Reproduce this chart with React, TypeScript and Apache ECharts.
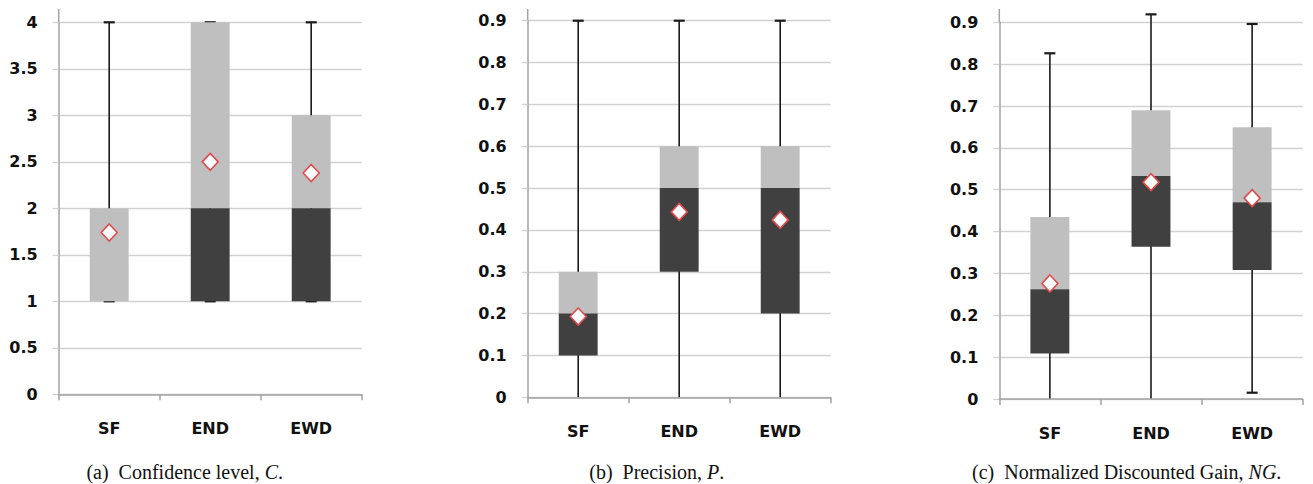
import React, { useEffect, useRef } from "react";
import * as echarts from "echarts";

const categories = ["SF", "END", "EWD"];

// (a) Confidence level
const confMin = [1, 1, 1];
const confQ1 = [1, 1, 1];
const confMedian = [1, 2, 2];
const confQ3 = [2, 4, 3];
const confMax = [4, 4, 4];
const confMean = [1.74, 2.5, 2.38];

// (b) Precision
const precMin = [0, 0, 0];
const precQ1 = [0.1, 0.3, 0.2];
const precMedian = [0.2, 0.5, 0.5];
const precQ3 = [0.3, 0.6, 0.6];
const precMax = [0.9, 0.9, 0.9];
const precMean = [0.193, 0.443, 0.424];

// (c) Normalized Discounted Gain
const ngMin = [0, 0, 0.015];
const ngQ1 = [0.109, 0.364, 0.308];
const ngMedian = [0.262, 0.533, 0.47];
const ngQ3 = [0.435, 0.69, 0.649];
const ngMax = [0.826, 0.919, 0.896];
const ngMean = [0.276, 0.518, 0.48];

const yTicksA = { min: 0, max: 4, interval: 0.5 };
const yTicksB = { min: 0, max: 0.9, interval: 0.1 };
const yTicksC = { min: 0, max: 0.9, interval: 0.1 };

const captions = [
  { label: "(a)", text: "Confidence level, ", sym: "C" },
  { label: "(b)", text: "Precision, ", sym: "P" },
  { label: "(c)", text: "Normalized Discounted Gain, ", sym: "NG" },
];

const DARK = "#404040";
const LIGHT = "#bfbfbf";
const AXIS = "#a3a3a3";
const GRIDLINE = "#d2d2d2";
const WHISKER = "#1a1a1a";
const LABEL_FONT = "DejaVu Sans";

function buildBox(mn: number[], q1: number[], md: number[], q3: number[], mx: number[]) {
  return categories.map((_, i) => [i, mn[i], q1[i], md[i], q3[i], mx[i]]);
}

const renderBox = (params: any, api: any) => {
  const idx = api.value(0);
  const mn = api.value(1);
  const q1 = api.value(2);
  const md = api.value(3);
  const q3 = api.value(4);
  const mx = api.value(5);
  const x = api.coord([idx, 0])[0];
  const w = api.size([1, 0])[0] * 0.385;
  const py = (v: number) => api.coord([idx, v])[1];
  const capHalf = 5.5;
  const children: any[] = [
    {
      type: "line",
      shape: { x1: x, y1: py(mn), x2: x, y2: py(mx) },
      style: { stroke: WHISKER, lineWidth: 1.6 },
    },
    {
      type: "line",
      shape: { x1: x - capHalf, y1: py(mx), x2: x + capHalf, y2: py(mx) },
      style: { stroke: WHISKER, lineWidth: 2.2 },
    },
  ];
  if (mn > 0) {
    children.push({
      type: "line",
      shape: { x1: x - capHalf, y1: py(mn), x2: x + capHalf, y2: py(mn) },
      style: { stroke: WHISKER, lineWidth: 2.2 },
    });
  }
  if (q3 > md) {
    children.push({
      type: "rect",
      shape: { x: x - w / 2, y: py(q3), width: w, height: py(md) - py(q3) },
      style: { fill: LIGHT },
    });
  }
  if (md > q1) {
    children.push({
      type: "rect",
      shape: { x: x - w / 2, y: py(md), width: w, height: py(q1) - py(md) },
      style: { fill: DARK },
    });
  }
  return { type: "group", children };
};

export default function App() {
  const ref = useRef<HTMLDivElement>(null);

  useEffect(() => {
    document.body.style.margin = "0";
    if (!ref.current) return;
    const chart = echarts.init(ref.current, null, { renderer: "svg" });

    const grids = [
      { left: 58.7, right: 951.3, top: 22.3, bottom: 89.7 },
      { left: 527.7, right: 482.3, top: 20.7, bottom: 86.7 },
      { left: 999.3, right: 10.3, top: 22.3, bottom: 85 },
    ];
    const yScales = [yTicksA, yTicksB, yTicksC];
    const boxes = [
      buildBox(confMin, confQ1, confMedian, confQ3, confMax),
      buildBox(precMin, precQ1, precMedian, precQ3, precMax),
      buildBox(ngMin, ngQ1, ngMedian, ngQ3, ngMax),
    ];
    const means = [confMean, precMean, ngMean];
    const captionX = [184.7, 656.7, 1126.7];

    const xAxis = grids.map((_, i) => ({
      type: "category",
      gridIndex: i,
      data: categories,
      boundaryGap: true,
      z: 10,
      axisLine: { show: true, lineStyle: { color: AXIS, width: 1.5 } },
      axisTick: { show: true, length: 6, alignWithLabel: false, lineStyle: { color: AXIS, width: 1.5 } },
      axisLabel: {
        color: "#111",
        fontFamily: LABEL_FONT,
        fontWeight: "bold",
        fontSize: 16,
        margin: 26,
      },
      splitLine: { show: false },
    }));

    const yAxis = grids.map((_, i) => ({
      type: "value",
      gridIndex: i,
      min: yScales[i].min,
      max: yScales[i].max,
      interval: yScales[i].interval,
      axisLine: { show: true, lineStyle: { color: AXIS, width: 1.5 } },
      axisTick: { show: true, length: 6, lineStyle: { color: GRIDLINE, width: 1.3 } },
      axisLabel: {
        color: "#111",
        fontFamily: LABEL_FONT,
        fontWeight: "bold",
        fontSize: 16,
        margin: 21,
      },
      splitLine: { show: true, lineStyle: { color: GRIDLINE, width: 1.3 } },
    }));

    const series: any[] = [];
    grids.forEach((_, i) => {
      series.push({
        type: "custom",
        xAxisIndex: i,
        yAxisIndex: i,
        renderItem: renderBox,
        encode: { x: 0, y: [1, 2, 3, 4, 5] },
        data: boxes[i],
        clip: false,
        z: 2,
      });
      series.push({
        type: "scatter",
        xAxisIndex: i,
        yAxisIndex: i,
        data: means[i],
        symbol: "diamond",
        symbolSize: [16, 17],
        itemStyle: { color: "#ffffff", borderColor: "#e5484a", borderWidth: 1.6, opacity: 1 },
        z: 5,
      });
    });

    const graphic: any[] = [];
    // upward extension of the y-axis lines above the top gridline
    grids.forEach((g) => {
      graphic.push({
        type: "line",
        shape: { x1: g.left, y1: 9, x2: g.left, y2: g.top },
        style: { stroke: AXIS, lineWidth: 1.5 },
        silent: true,
      });
    });
    captions.forEach((c, i) => {
      graphic.push({
        type: "text",
        x: captionX[i],
        y: 472,
        style: {
          text: `{n|${c.label}  ${c.text}}{i|${c.sym}}{n|.}`,
          align: "center",
          verticalAlign: "middle",
          rich: {
            n: { fontFamily: "Liberation Serif", fontSize: 20, fill: "#111" },
            i: { fontFamily: "Liberation Serif", fontSize: 20, fontStyle: "italic", fill: "#111" },
          },
        },
        silent: true,
      });
    });

    chart.setOption({
      animation: false,
      backgroundColor: "#ffffff",
      grid: grids,
      xAxis,
      yAxis,
      series,
      graphic,
    });

    return () => chart.dispose();
  }, []);

  return <div ref={ref} style={{ width: 1313, height: 484 }} />;
}
